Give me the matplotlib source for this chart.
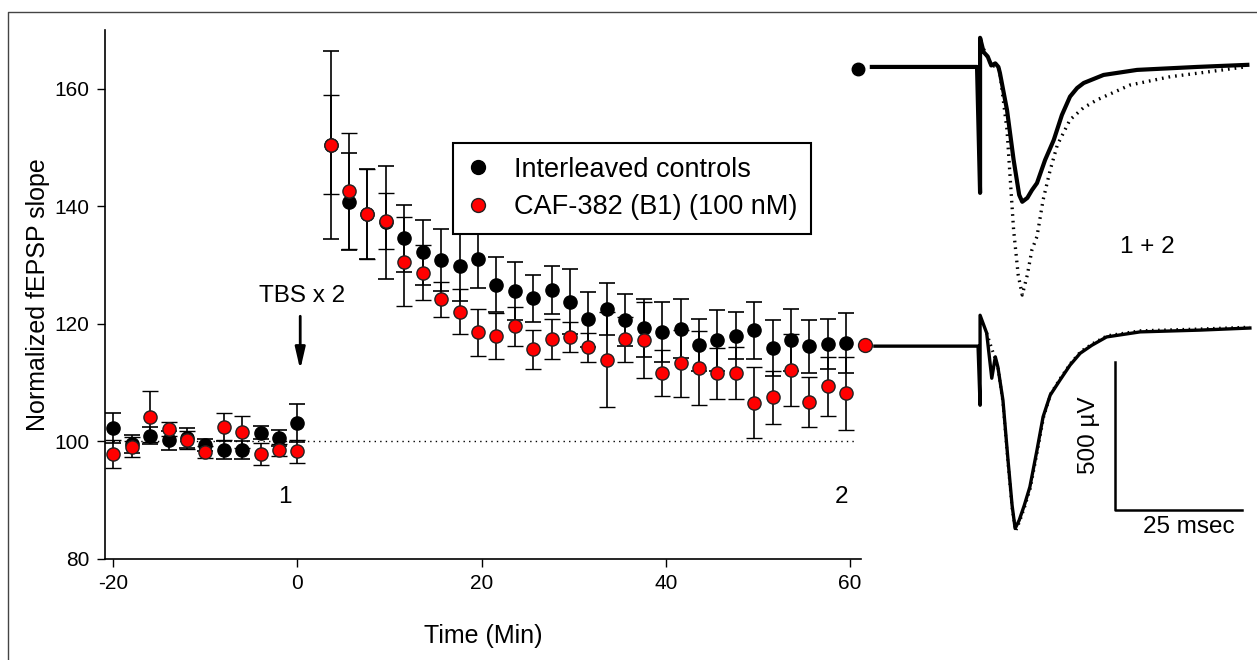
import matplotlib.pyplot as plt
from matplotlib.lines import Line2D
import numpy as np

plt.rcParams['font.family'] = ['Liberation Sans', 'DejaVu Sans']
plt.rcParams['axes.unicode_minus'] = False

# time points (min)
t_base = [-20, -18, -16, -14, -12, -10, -8, -6, -4, -2, 0]
t_post = [3.6, 5.6, 7.6, 9.6, 11.6, 13.6, 15.6, 17.6, 19.6, 21.6, 23.6, 25.6, 27.6, 29.6,
          31.6, 33.6, 35.6, 37.6, 39.6, 41.6, 43.6, 45.6, 47.6, 49.6, 51.6, 53.6, 55.6, 57.6, 59.6]

# interleaved controls
ctrl = [102.3, 99.6, 101.0, 100.2, 100.6, 99.4, 98.5, 98.5, 101.5, 100.6, 103.1,
        150.4, 140.8, 138.7, 137.3, 134.6, 132.2, 130.9, 129.9, 131.1, 126.7, 125.6, 124.4, 125.8, 123.8,
        120.8, 122.5, 120.7, 119.3, 118.7, 119.2, 116.4, 117.2, 118.0, 118.9, 115.9, 117.2, 116.2, 116.6, 116.7]
ctrl_err = [2.6, 1.5, 1.5, 1.6, 1.7, 1.0, 1.5, 1.5, 1.1, 1.3, 3.2,
            16.0, 8.2, 7.6, 9.6, 5.7, 5.5, 5.3, 6.0, 5.0, 4.7, 5.0, 4.0, 4.1, 5.5,
            4.7, 4.4, 4.4, 5.0, 5.1, 5.0, 4.4, 5.2, 4.0, 4.8, 4.8, 5.3, 4.5, 4.2, 5.1]

# CAF-382
caf = [97.9, 99.0, 104.2, 102.1, 100.2, 98.2, 102.5, 101.6, 97.9, 98.5, 98.3,
       150.5, 142.6, 138.7, 137.5, 130.6, 128.7, 124.2, 122.1, 118.6, 118.0, 119.6, 115.7, 117.4, 117.8,
       116.0, 113.9, 117.4, 117.3, 111.7, 113.3, 112.5, 111.6, 111.7, 106.6, 107.5, 112.2, 106.7, 109.4, 108.2]
caf_err = [2.4, 1.7, 4.3, 1.2, 1.5, 1.0, 2.3, 2.7, 1.9, 1.0, 2.0,
           8.4, 9.9, 7.6, 4.8, 7.6, 4.7, 3.0, 3.9, 4.0, 3.9, 3.3, 3.3, 3.4, 2.6,
           2.5, 8.1, 3.8, 6.5, 3.9, 5.7, 6.3, 4.3, 4.4, 6.0, 4.5, 6.1, 4.2, 5.0, 6.2]

times = t_base + t_post

# example fEPSP traces (ms, uV)
top_t = [-21.3, -0.6, 0, 0, 0.7, 1.5, 2.2, 3.0, 3.6, 3.9, 5.3, 6.6, 7.7, 8.3, 9.3, 10.2, 11.2, 12.8,
         14.5, 16.1, 17.7, 19.1, 20.4, 24.3, 30.9, 42.7, 52.6]
top_1 = [0, 0, -424, 98, 50, 35, 5, 12, 0, -20, -145, -313, -431, -454, -441, -415, -391, -313,
         -246, -162, -100, -71, -54, -27, -10, 0, 7]
top2_t = [0.7, 2.2, 3.6, 3.9, 5.3, 6.6, 7.5, 8.3, 9.3, 10.2, 11.2, 12.4, 13.8, 15.2, 17.7, 20.3,
          23.0, 29.5, 37.4, 44.7, 52.6]
top_2 = [60, 5, 0, -20, -212, -549, -700, -768, -700, -616, -571, -448, -347, -263, -178, -138,
         -111, -61, -33, -17, 1]

bot_t = [-20.7, -0.4, 0, 0, 1.3, 2.3, 3.0, 3.5, 4.5, 5.5, 6.3, 6.9, 7.7, 8.7, 9.8, 11.2, 12.4,
         13.8, 15.7, 17.7, 19.7, 22.0, 24.9, 31.5, 43.3, 53.1]
bot_1 = [0, 0, -199, 104, 44, -108, -36, -70, -182, -384, -536, -614, -586, -536, -474, -350, -238,
         -165, -115, -64, -24, 3, 31, 48, 54, 61]
bot2_t = [1.3, 3.5, 4.5, 5.5, 6.3, 7.0, 7.8, 8.8, 9.9, 11.3, 12.5, 13.9, 15.8, 17.8, 19.8,
          22.1, 25.0, 31.6, 43.4, 53.1]
bot_2 = [44, -70, -190, -395, -545, -622, -590, -540, -478, -352, -240, -160, -108, -58, -18,
         8, 35, 52, 58, 64]
top_offset = 940

fig = plt.figure(figsize=(12.57, 6.60), dpi=100)
ax = fig.add_axes([105 / 1257, 101 / 660, 756 / 1257, 529 / 660])

ax.plot([-20, 60.7], [100, 100], ls=(0, (1, 3)), color='black', lw=1, zorder=1)

ekw = dict(fmt='o', ms=9.5, capsize=6, elinewidth=1.2, capthick=1.2, ecolor='black', zorder=3)
ax.errorbar(times, ctrl, yerr=ctrl_err, mfc='black', mec='black', **ekw)
ax.errorbar(times, caf, yerr=caf_err, mfc='#ff0000', mec='#222222', mew=1, **ekw)

ax.set_xlim(-20.9, 61.2)
ax.set_ylim(80, 170)
ax.set_xticks([-20, 0, 20, 40, 60])
ax.set_yticks([80, 100, 120, 140, 160])
ax.tick_params(direction='out', length=6, width=1, labelsize=15, pad=5)
for s in ['top', 'right']:
    ax.spines[s].set_visible(False)
for s in ['left', 'bottom']:
    ax.spines[s].set_linewidth(1.2)
ax.set_xlabel('Time (Min)', fontsize=18, labelpad=22)
ax.set_ylabel('Normalized fEPSP slope', fontsize=18, labelpad=3)

ax.annotate('', xy=(0.3, 112.2), xytext=(0.3, 121.3),
            arrowprops=dict(arrowstyle='-|>,head_width=0.3,head_length=1.3', color='black', lw=2,
                            shrinkA=0, shrinkB=0))
ax.text(0.5, 124.7, 'TBS x 2', ha='center', va='center', fontsize=17.5)
ax.text(-1.4, 90.5, '1', ha='center', va='center', fontsize=17.5)
ax.text(59.1, 90.5, '2', ha='center', va='center', fontsize=17.5)

handles = [Line2D([], [], ls='none', marker='o', ms=10, mfc='black', mec='black'),
           Line2D([], [], ls='none', marker='o', ms=10, mfc='#ff0000', mec='#222222')]
leg = ax.legend(handles, ['Interleaved controls', 'CAF-382 (B1) (100 nM)'],
                loc='upper left', bbox_to_anchor=(0.46, 0.786), fontsize=19.5, frameon=True,
                fancybox=False, edgecolor='black', framealpha=1, handletextpad=0.85,
                borderpad=0.5, labelspacing=0.42, handlelength=0.9, borderaxespad=0)
leg.get_frame().set_linewidth(1.5)
leg.set_zorder(5)

# traces panel
tx = fig.add_axes([850 / 1257, 100 / 660, 407 / 1257, 540 / 660])
tx.set_xlim(-25.6, 54.5)
tx.set_ylim(-720, 1098)
tx.axis('off')
tx.plot(top_t, [v + top_offset for v in top_1], color='black', lw=3)
tx.plot(top2_t, [v + top_offset for v in top_2], color='black', lw=2.4, ls=(0, (0.5, 1.5)))
tx.plot(bot_t, bot_1, color='black', lw=2.4)
tx.plot(bot2_t, bot_2, color='black', lw=2.2, ls=(0, (0.5, 1.5)))
tx.plot([-24.0], [933], 'o', color='black', ms=9)
tx.plot([-22.6], [3], 'o', mfc='#ff0000', mec='#222222', ms=10)
tx.plot([26.6, 26.6, 51.6], [-53, -553, -553], color='black', lw=1.8)
tx.text(33.0, 335, '1 + 2', ha='center', va='center', fontsize=17.5)
tx.text(21.5, -300, '500 µV', ha='center', va='center', rotation=90, fontsize=17.5)
tx.text(41.0, -610, '25 msec', ha='center', va='center', fontsize=17.5)

# outer frame
fig.add_artist(Line2D([8 / 1257, 8 / 1257, 1.0], [0.0, 1 - 12 / 660, 1 - 12 / 660],
                      color='#444444', lw=1))

fig.savefig('out.png', dpi=100)
